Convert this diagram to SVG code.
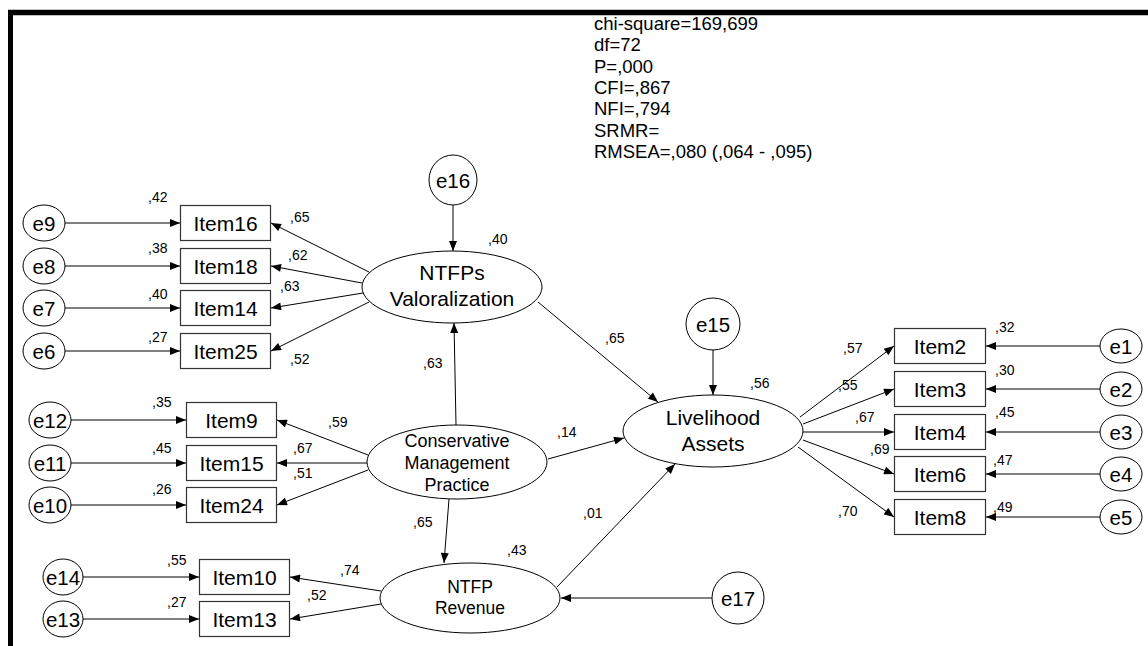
<svg xmlns="http://www.w3.org/2000/svg" width="1148" height="646" viewBox="0 0 1148 646">
<defs>
<marker id="ah" viewBox="0 0 10 8" refX="10" refY="4" markerWidth="11" markerHeight="8" orient="auto" markerUnits="userSpaceOnUse"><path d="M0,0 L10,4 L0,8 z" fill="#000"/></marker>
<style>
text{font-family:"Liberation Sans",Arial,sans-serif;fill:#000}
.ln{stroke:#000;stroke-width:1;fill:none;marker-end:url(#ah)}
.bx{fill:#fff;stroke:#333;stroke-width:1.2}
.ov{fill:#fff;stroke:#000;stroke-width:1}
.it{font-size:21px;text-anchor:middle}
.er{font-size:20.5px;text-anchor:middle}
.lt{font-size:21px;text-anchor:middle}
.cm{font-size:18px;text-anchor:middle}
.nr{font-size:17.5px;text-anchor:middle}
.n{font-size:14px}
.st{font-size:18.5px}
</style>
</defs>
<rect x="0" y="0" width="1148" height="646" fill="#fff"/>
<g id="frame" fill="none" stroke="#000">
<path d="M8,12.5 H1148" stroke-width="5.5"/>
<path d="M10.5,10 V646" stroke-width="5"/>
</g>
<g id="fit-stats">
<text class="st" x="594" y="30">chi-square=169,699</text>
<text class="st" x="594" y="51.3">df=72</text>
<text class="st" x="594" y="72.6">P=,000</text>
<text class="st" x="594" y="94">CFI=,867</text>
<text class="st" x="594" y="115">NFI=,794</text>
<text class="st" x="594" y="136.5">SRMR=</text>
<text class="st" x="594" y="158">RMSEA=,080 (,064 - ,095)</text>
</g>
<g id="connectors">
<line class="ln" x1="65" y1="223" x2="180" y2="223"/>
<line class="ln" x1="65" y1="266" x2="180" y2="266"/>
<line class="ln" x1="65" y1="308" x2="180" y2="308"/>
<line class="ln" x1="65" y1="351" x2="180" y2="351"/>
<line class="ln" x1="369" y1="272" x2="271" y2="223"/>
<line class="ln" x1="362" y1="283" x2="271" y2="266"/>
<line class="ln" x1="363" y1="293" x2="271" y2="308"/>
<line class="ln" x1="369" y1="302" x2="271" y2="351"/>
<line class="ln" x1="453" y1="205" x2="453" y2="251"/>
<line class="ln" x1="456" y1="425" x2="454" y2="323"/>
<line class="ln" x1="71" y1="420" x2="186" y2="420"/>
<line class="ln" x1="71" y1="463" x2="186" y2="463"/>
<line class="ln" x1="71" y1="505" x2="186" y2="505"/>
<line class="ln" x1="368" y1="455" x2="277" y2="420"/>
<line class="ln" x1="367" y1="463" x2="277" y2="463"/>
<line class="ln" x1="368" y1="470" x2="277" y2="505"/>
<line class="ln" x1="548" y1="459" x2="624" y2="438"/>
<line class="ln" x1="449" y1="499" x2="444" y2="563"/>
<line class="ln" x1="83" y1="577" x2="199" y2="577"/>
<line class="ln" x1="83" y1="619" x2="199" y2="619"/>
<line class="ln" x1="381" y1="591" x2="290" y2="577"/>
<line class="ln" x1="381" y1="604" x2="290" y2="619"/>
<line class="ln" x1="712" y1="598" x2="561" y2="598"/>
<line class="ln" x1="557" y1="587" x2="675" y2="464"/>
<line class="ln" x1="538" y1="302" x2="658" y2="402"/>
<line class="ln" x1="713" y1="350" x2="713" y2="395"/>
<line class="ln" x1="800" y1="417" x2="894" y2="346"/>
<line class="ln" x1="803" y1="424" x2="894" y2="389"/>
<line class="ln" x1="803" y1="432" x2="894" y2="432"/>
<line class="ln" x1="803" y1="440" x2="894" y2="474"/>
<line class="ln" x1="798" y1="447" x2="894" y2="517"/>
<line class="ln" x1="1100" y1="346" x2="986" y2="346"/>
<line class="ln" x1="1100" y1="389" x2="986" y2="389"/>
<line class="ln" x1="1100" y1="432" x2="986" y2="432"/>
<line class="ln" x1="1100" y1="474" x2="986" y2="474"/>
<line class="ln" x1="1100" y1="517" x2="986" y2="517"/>
</g>
<g id="path-labels">
<text class="n" x="148" y="202">,42</text>
<text class="n" x="148" y="253">,38</text>
<text class="n" x="148" y="299">,40</text>
<text class="n" x="148" y="342">,27</text>
<text class="n" x="290" y="222">,65</text>
<text class="n" x="288" y="260">,62</text>
<text class="n" x="280" y="291">,63</text>
<text class="n" x="290" y="364">,52</text>
<text class="n" x="488" y="244">,40</text>
<text class="n" x="423" y="368">,63</text>
<text class="n" x="152" y="407">,35</text>
<text class="n" x="152" y="453">,45</text>
<text class="n" x="152" y="494">,26</text>
<text class="n" x="328" y="427">,59</text>
<text class="n" x="293" y="453">,67</text>
<text class="n" x="293" y="478">,51</text>
<text class="n" x="557" y="437">,14</text>
<text class="n" x="413" y="527">,65</text>
<text class="n" x="507" y="555">,43</text>
<text class="n" x="583" y="518">,01</text>
<text class="n" x="167" y="565">,55</text>
<text class="n" x="167" y="607">,27</text>
<text class="n" x="340" y="575">,74</text>
<text class="n" x="307" y="600">,52</text>
<text class="n" x="605" y="343">,65</text>
<text class="n" x="750" y="388">,56</text>
<text class="n" x="995" y="332">,32</text>
<text class="n" x="995" y="375">,30</text>
<text class="n" x="995" y="417">,45</text>
<text class="n" x="993" y="465">,47</text>
<text class="n" x="993" y="512">,49</text>
<text class="n" x="843" y="353">,57</text>
<text class="n" x="838" y="390">,55</text>
<text class="n" x="855" y="422">,67</text>
<text class="n" x="870" y="454">,69</text>
<text class="n" x="838" y="516">,70</text>
</g>
<g id="e9"><ellipse class="ov" cx="44" cy="223" rx="21" ry="18"/><text class="er" x="44" y="230.5">e9</text></g>
<g id="e8"><ellipse class="ov" cx="44" cy="266" rx="21" ry="18"/><text class="er" x="44" y="273.5">e8</text></g>
<g id="e7"><ellipse class="ov" cx="44" cy="308" rx="21" ry="18"/><text class="er" x="44" y="315.5">e7</text></g>
<g id="e6"><ellipse class="ov" cx="44" cy="351" rx="21" ry="18"/><text class="er" x="44" y="358.5">e6</text></g>
<g id="item16"><rect class="bx" x="180.5" y="205.5" width="90" height="35"/><text class="it" x="225.5" y="230.5">Item16</text></g>
<g id="item18"><rect class="bx" x="180.5" y="248.5" width="90" height="35"/><text class="it" x="225.5" y="273.5">Item18</text></g>
<g id="item14"><rect class="bx" x="180.5" y="290.5" width="90" height="35"/><text class="it" x="225.5" y="315.5">Item14</text></g>
<g id="item25"><rect class="bx" x="180.5" y="333.5" width="90" height="35"/><text class="it" x="225.5" y="358.5">Item25</text></g>
<g id="e16"><ellipse class="ov" cx="453" cy="180" rx="24" ry="25"/><text class="er" x="453" y="187.5">e16</text></g>
<g id="ntfps-valoralization"><ellipse class="ov" cx="452" cy="287" rx="90" ry="36"/><text class="lt" x="452" y="280">NTFPs</text><text class="lt" x="452" y="305.5">Valoralization</text></g>
<g id="e12"><ellipse class="ov" cx="50" cy="420" rx="21" ry="18"/><text class="er" x="50" y="427.5">e12</text></g>
<g id="e11"><ellipse class="ov" cx="50" cy="463" rx="21" ry="18"/><text class="er" x="50" y="470.5">e11</text></g>
<g id="e10"><ellipse class="ov" cx="50" cy="505" rx="21" ry="18"/><text class="er" x="50" y="512.5">e10</text></g>
<g id="item9"><rect class="bx" x="186.5" y="402.5" width="90" height="35"/><text class="it" x="231.5" y="427.5">Item9</text></g>
<g id="item15"><rect class="bx" x="186.5" y="445.5" width="90" height="35"/><text class="it" x="231.5" y="470.5">Item15</text></g>
<g id="item24"><rect class="bx" x="186.5" y="487.5" width="90" height="35"/><text class="it" x="231.5" y="512.5">Item24</text></g>
<g id="conservative-management-practice"><ellipse class="ov" cx="457" cy="462" rx="90" ry="37"/><text class="cm" x="457" y="447">Conservative</text><text class="cm" x="457" y="469">Management</text><text class="cm" x="457" y="491">Practice</text></g>
<g id="e14"><ellipse class="ov" cx="63" cy="577" rx="20" ry="18"/><text class="er" x="63" y="584.5">e14</text></g>
<g id="e13"><ellipse class="ov" cx="63" cy="619" rx="20" ry="18"/><text class="er" x="63" y="626.5">e13</text></g>
<g id="item10"><rect class="bx" x="199.5" y="559.5" width="90" height="35"/><text class="it" x="244.5" y="584.5">Item10</text></g>
<g id="item13"><rect class="bx" x="199.5" y="601.5" width="90" height="35"/><text class="it" x="244.5" y="626.5">Item13</text></g>
<g id="ntfp-revenue"><ellipse class="ov" cx="470" cy="598" rx="90" ry="35"/><text class="nr" x="470" y="593">NTFP</text><text class="nr" x="470" y="614">Revenue</text></g>
<g id="e17"><ellipse class="ov" cx="738" cy="598" rx="26" ry="26"/><text class="er" x="738" y="605.5">e17</text></g>
<g id="e15"><ellipse class="ov" cx="713" cy="324" rx="27" ry="26"/><text class="er" x="713" y="331.5">e15</text></g>
<g id="livelihood-assets"><ellipse class="ov" cx="713" cy="431" rx="90" ry="36"/><text class="lt" x="713" y="425">Livelihood</text><text class="lt" x="713" y="450.5">Assets</text></g>
<g id="item2"><rect class="bx" x="894.5" y="328.5" width="91" height="35"/><text class="it" x="940" y="353.5">Item2</text></g>
<g id="item3"><rect class="bx" x="894.5" y="371.5" width="91" height="35"/><text class="it" x="940" y="396.5">Item3</text></g>
<g id="item4"><rect class="bx" x="894.5" y="414.5" width="91" height="35"/><text class="it" x="940" y="439.5">Item4</text></g>
<g id="item6"><rect class="bx" x="894.5" y="456.5" width="91" height="35"/><text class="it" x="940" y="481.5">Item6</text></g>
<g id="item8"><rect class="bx" x="894.5" y="499.5" width="91" height="35"/><text class="it" x="940" y="524.5">Item8</text></g>
<g id="e1"><ellipse class="ov" cx="1121" cy="346" rx="21" ry="17"/><text class="er" x="1121" y="353.5">e1</text></g>
<g id="e2"><ellipse class="ov" cx="1121" cy="389" rx="21" ry="17"/><text class="er" x="1121" y="396.5">e2</text></g>
<g id="e3"><ellipse class="ov" cx="1121" cy="432" rx="21" ry="17"/><text class="er" x="1121" y="439.5">e3</text></g>
<g id="e4"><ellipse class="ov" cx="1121" cy="474" rx="21" ry="17"/><text class="er" x="1121" y="481.5">e4</text></g>
<g id="e5"><ellipse class="ov" cx="1121" cy="517" rx="21" ry="17"/><text class="er" x="1121" y="524.5">e5</text></g>
</svg>
